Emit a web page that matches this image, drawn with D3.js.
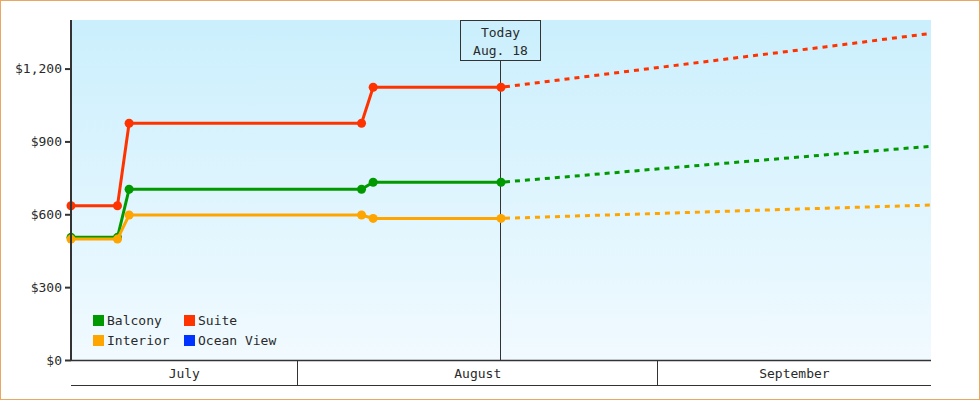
<!DOCTYPE html>
<html>
<head>
<meta charset="utf-8">
<script src="https://cdn.jsdelivr.net/npm/d3@7"></script>
<style>
  html, body { margin: 0; padding: 0; background: #fff; }
  svg { display: block; }
  text { font-family: "DejaVu Sans Mono", monospace; font-size: 13px; fill: #2a2a2a; }
</style>
</head>
<body>
<svg id="chart" width="980" height="400"></svg>
<script>
// price history (solid) and forecast (dashed), one point per date
const historyDates = ["2023-07-12T12:00", "2023-07-16T12:00", "2023-07-17T12:00",
                      "2023-08-06T12:00", "2023-08-07T12:00", "2023-08-18T12:00"];
const forecastDates = ["2023-08-18T12:00", "2023-08-25T12:00", "2023-09-01T12:00",
                       "2023-09-08T12:00", "2023-09-15T12:00", "2023-09-24T12:00"];

const balconyHistory  = [505, 505, 703, 703, 732, 732];
const suiteHistory    = [635, 635, 975, 975, 1123, 1123];
const interiorHistory = [498, 498, 597, 597, 583, 583];
const oceanHistory    = [];

const balconyForecast  = [732, 760, 789, 817, 845, 880];
const suiteForecast    = [1123, 1165, 1207, 1249, 1290, 1345];
const interiorForecast = [583, 594, 604, 615, 625, 638];
const oceanForecast    = [];

const seriesNames  = ["Balcony", "Suite", "Interior", "Ocean View"];
const seriesColors = ["#009900", "#ff3300", "#ffa500", "#0033ff"];

const yTicks = [0, 300, 600, 900, 1200];
const months = [
  { label: "July",      start: "2023-07-01", end: "2023-08-01" },
  { label: "August",    start: "2023-08-01", end: "2023-09-01" },
  { label: "September", start: "2023-09-01", end: "2023-10-01" }
];
const domainStart = "2023-07-12T12:00";
const domainEnd   = "2023-09-24T12:00";
const today = "2023-08-18T12:00";
const todayLines = ["Today", "Aug. 18"];

const parse = d3.isoParse;
const svg = d3.select("#chart");
const W = 980, H = 400;
const m = { left: 71, right: 49, top: 20, bottom: 40 };

// outer frame
svg.append("rect").attr("x", 0.5).attr("y", 0.5).attr("width", W - 1).attr("height", H - 1)
   .attr("fill", "#fff").attr("stroke", "#e8a862");

const x = d3.scaleTime().domain([parse(domainStart), parse(domainEnd)]).range([m.left, W - m.right]);
const y = d3.scaleLinear().domain([0, 1400]).range([H - m.bottom, m.top]);

// plot background gradient
const grad = svg.append("defs").append("linearGradient")
  .attr("id", "bg").attr("x1", 0).attr("y1", 0).attr("x2", 0).attr("y2", 1);
grad.append("stop").attr("offset", "0%").attr("stop-color", "#cbeffd");
grad.append("stop").attr("offset", "100%").attr("stop-color", "#f1faff");

svg.append("rect")
   .attr("x", m.left).attr("y", m.top)
   .attr("width", W - m.right - m.left).attr("height", H - m.bottom - m.top)
   .attr("fill", "url(#bg)");

// today marker
const tx = Math.round(x(parse(today))) - 0.5;
svg.append("line").attr("x1", tx).attr("x2", tx).attr("y1", 60).attr("y2", y(0))
   .attr("stroke", "#333").attr("stroke-width", 1);
svg.append("rect").attr("x", tx - 40).attr("y", 20.5).attr("width", 80).attr("height", 40)
   .attr("fill", "none").attr("stroke", "#333").attr("stroke-width", 1);
svg.selectAll(".today-label").data(todayLines).join("text")
   .attr("class", "today-label")
   .attr("x", tx).attr("y", (d, i) => 37 + i * 18)
   .attr("text-anchor", "middle").text(d => d);

// lines
const histories = [balconyHistory, suiteHistory, interiorHistory, oceanHistory];
const forecasts = [balconyForecast, suiteForecast, interiorForecast, oceanForecast];
const line = d3.line().x(d => x(d.date)).y(d => y(d.value));

seriesNames.forEach((name, i) => {
  const hist = histories[i].map((v, j) => ({ date: parse(historyDates[j]), value: v }));
  const fc = forecasts[i].map((v, j) => ({ date: parse(forecastDates[j]), value: v }));
  if (fc.length) {
    svg.append("path").datum(fc).attr("d", line)
       .attr("fill", "none").attr("stroke", seriesColors[i])
       .attr("stroke-width", 3).attr("stroke-dasharray", "5,5").attr("stroke-dashoffset", -4);
  }
  if (hist.length) {
    svg.append("path").datum(hist).attr("d", line)
       .attr("fill", "none").attr("stroke", seriesColors[i]).attr("stroke-width", 3);
    svg.selectAll(".pt-" + i).data(hist).join("circle")
       .attr("class", "pt-" + i)
       .attr("cx", d => x(d.date)).attr("cy", d => y(d.value)).attr("r", 4.5)
       .attr("fill", seriesColors[i]);
  }
});

// y axis
const yAxis = svg.append("g").attr("transform", `translate(${m.left},0)`)
  .call(d3.axisLeft(y).tickValues(yTicks).tickSize(6).tickPadding(3)
          .tickFormat(d => "$" + d3.format(",")(d)));
yAxis.select(".domain").remove();
yAxis.selectAll(".tick line").attr("stroke", "#333").attr("stroke-width", 2);
yAxis.selectAll(".tick text").attr("font-family", "DejaVu Sans Mono").attr("font-size", 13).attr("fill", "#2a2a2a");
svg.append("line").attr("x1", m.left).attr("x2", m.left).attr("y1", m.top).attr("y2", y(0) + 1)
   .attr("stroke", "#333").attr("stroke-width", 2);

// x axis: month bands
const x0 = m.left, x1 = W - m.right;
const bandTop = y(0) + 0.5, bandBottom = y(0) + 25.5;
svg.append("line").attr("x1", x0).attr("x2", x1).attr("y1", bandTop).attr("y2", bandTop)
   .attr("stroke", "#333").attr("stroke-width", 1.5);
svg.append("line").attr("x1", x0).attr("x2", x1).attr("y1", bandBottom).attr("y2", bandBottom)
   .attr("stroke", "#333").attr("stroke-width", 1);
months.forEach((mo, i) => {
  const a = Math.max(x0, x(parse(mo.start)));
  const b = Math.min(x1, x(parse(mo.end)));
  if (i > 0) {
    const sx = Math.round(a) - 0.5;
    svg.append("line").attr("x1", sx).attr("x2", sx).attr("y1", bandTop).attr("y2", bandBottom)
       .attr("stroke", "#333").attr("stroke-width", 1);
  }
  svg.append("text").attr("x", (a + b) / 2).attr("y", y(0) + 18)
     .attr("text-anchor", "middle").text(mo.label);
});

// legend
const legend = svg.append("g").attr("transform", "translate(93,315)");
seriesNames.forEach((name, i) => {
  const g = legend.append("g")
    .attr("transform", `translate(${(i % 2) * 91},${Math.floor(i / 2) * 20})`);
  g.append("rect").attr("width", 11).attr("height", 11).attr("fill", seriesColors[i]);
  g.append("text").attr("x", 14).attr("y", 10).text(name);
});
</script>
</body>
</html>
